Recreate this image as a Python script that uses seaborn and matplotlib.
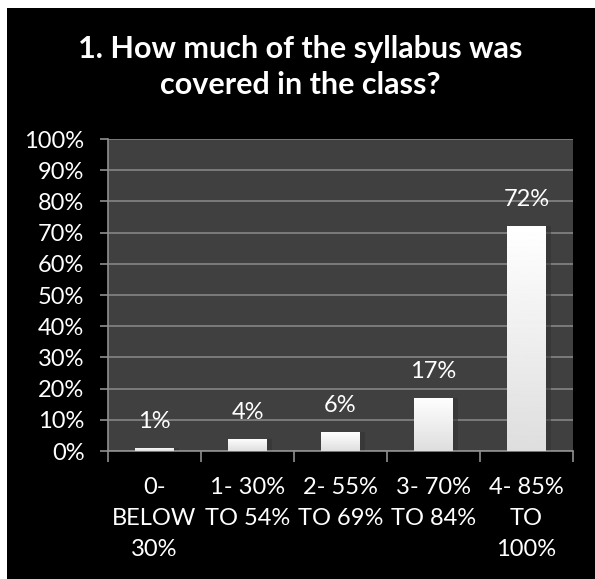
import numpy as np
import pandas as pd
import seaborn as sns
import matplotlib.pyplot as plt
from matplotlib.patches import Rectangle
from matplotlib.ticker import MultipleLocator, PercentFormatter

# -------------------------------
# Data
# -------------------------------
categories = ["0-\nBELOW\n30%", "1- 30%\nTO 54%", "2- 55%\nTO 69%",
              "3- 70%\nTO 84%", "4- 85%\nTO\n100%"]
shares = [1, 4, 6, 17, 72]
title = "1. How much of the syllabus was\ncovered in the class?"

df = pd.DataFrame({"range": categories, "share": shares})

sns.set_style("dark")
plt.rcParams["font.family"] = ["Lato", "DejaVu Sans"]

fig = plt.figure(figsize=(5.95, 5.79), dpi=100, facecolor="white")
# black slide panel (thin white margin on left/top like the screenshot)
fig.patches.append(Rectangle((7 / 595, 0), 1, 1 - 8 / 579, transform=fig.transFigure,
                             facecolor="black", edgecolor="none", zorder=-10))

ax = fig.add_axes([108 / 595, 1 - 451 / 579, (573 - 108) / 595, (451 - 139) / 579])
ax.set_facecolor("#404040")

sns.barplot(data=df, x="range", y="share", color="white", width=0.41,
            saturation=1, edgecolor="none", ax=ax, zorder=3)

# white-to-grey gradient on each bar + faint shadow
grad = np.linspace(0.87, 1.0, 256).reshape(-1, 1)
for p in ax.patches:
    x0, w, h = p.get_x(), p.get_width(), p.get_height()
    ax.add_patch(Rectangle((x0 + w, 0), 0.06, h, facecolor="#333333",
                           edgecolor="none", alpha=0.6, zorder=2))
    im = ax.imshow(grad, cmap="gray", vmin=0, vmax=1, aspect="auto",
                   extent=(x0, x0 + w, 0, h), origin="lower", zorder=4)
    im.set_clip_path(p)
    ax.annotate(f"{h:.0f}%", (x0 + w / 2, h), xytext=(0, 19), textcoords="offset points",
                ha="center", va="center", color="white", fontsize=17)

ax.set_xlim(-0.5, len(categories) - 0.5)
ax.set_ylim(0, 100)
ax.yaxis.set_major_locator(MultipleLocator(10))
ax.yaxis.set_major_formatter(PercentFormatter(decimals=0))
ax.grid(axis="y", color="#858585", linewidth=1.2, zorder=1)
ax.grid(axis="x", visible=False)
ax.set_axisbelow(True)

# category boundary ticks on x
ax.set_xticks(np.arange(len(categories)))
ax.set_xticklabels(categories, color="white", fontsize=17, linespacing=1.57, va="top")
ax.set_xticks(np.arange(-0.5, len(categories)), minor=True)
ax.tick_params(axis="x", which="major", length=0, pad=19)
ax.tick_params(axis="x", which="minor", length=8, color="#909090", width=1.2, bottom=True)
ax.tick_params(axis="y", length=6, color="#909090", width=1.2, labelcolor="white",
               labelsize=17, left=True, pad=11)

for side in ["top", "right"]:
    ax.spines[side].set_visible(False)
for side in ["left", "bottom"]:
    ax.spines[side].set_visible(True)
    ax.spines[side].set_color("#909090")
    ax.spines[side].set_linewidth(1.2)

ax.set_xlabel("")
ax.set_ylabel("")

fig.text(0.505, 1 - 67 / 579, title, ha="center", va="center", color="white",
         fontsize=22, fontweight="bold", linespacing=1.39)

fig.savefig("out.png", dpi=100, facecolor=fig.get_facecolor())
